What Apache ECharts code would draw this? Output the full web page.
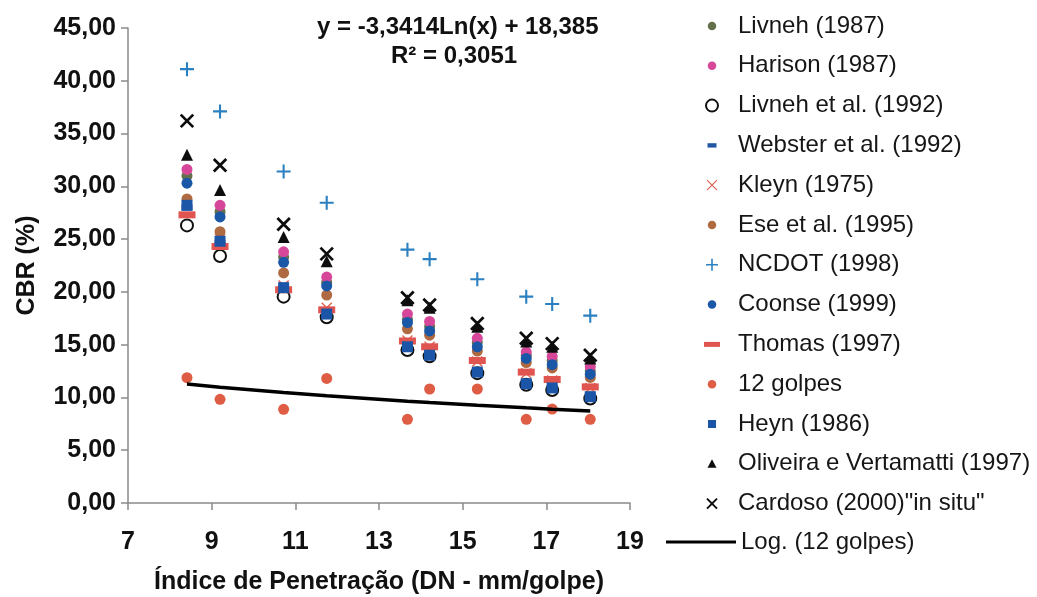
<!DOCTYPE html>
<html lang="pt">
<head>
<meta charset="UTF-8">
<title>CBR x Índice de Penetração</title>
<style>
    * { margin: 0; padding: 0; }
    #chart { width: 1037px; height: 597px; background: #fff; }
</style>
</head>
<body>
<div id="chart"></div>
<script src="https://cdn.jsdelivr.net/npm/echarts@6/dist/echarts.min.js"></script>
<script>
// índice de penetração DN (mm/golpe) de cada ensaio
const dn = [8.41, 9.20, 10.72, 11.75, 13.68, 14.21, 15.35, 16.52, 17.14, 18.05];

// CBR (%) por correlação
const livneh1987   = [31.0, 27.6, 23.3, 20.9, 17.4, 16.7, 15.2, 14.0, 13.5, 12.5];
const harison1987  = [31.6, 28.2, 23.8, 21.4, 17.9, 17.2, 15.6, 14.3, 13.9, 12.9];
const livneh1992   = [26.3, 23.4, 19.55, 17.6, 14.5, 13.9, 12.3, 11.2, 10.7, 9.9];
const webster1992  = [28.0, 24.6, 20.3, 17.9, 14.6, 14.0, 12.5, 11.4, 10.9, 10.1];
const kleyn1975    = [28.4, 25.0, 20.6, 18.5, 15.4, 14.8, 13.4, 12.3, 11.6, 10.9];
const ese1995      = [28.8, 25.7, 21.8, 19.7, 16.5, 15.9, 14.4, 13.3, 12.8, 11.9];
const ncdot1998    = [41.1, 37.1, 31.4, 28.45, 24.0, 23.1, 21.2, 19.55, 18.85, 17.75];
const coonse1999   = [30.3, 27.1, 22.8, 20.56, 17.1, 16.3, 14.8, 13.7, 13.1, 12.2];
const thomas1997   = [27.3, 24.3, 20.2, 18.3, 15.35, 14.8, 13.5, 12.4, 11.7, 11.0];
const golpes12     = [11.87, 9.82, 8.88, 11.8, 7.93, 10.8, 10.8, 7.93, 8.9, 7.93];
const heyn1986     = [28.2, 24.8, 20.4, 17.9, 14.8, 14.0, 12.4, 11.3, 10.9, 10.07];
const oliveira1997 = [33.0, 29.65, 25.2, 22.9, 19.2, 18.5, 16.7, 15.3, 14.8, 13.7];
const cardoso2000  = [36.2, 32.0, 26.4, 23.6, 19.45, 18.76, 17.0, 15.6, 15.1, 14.0];

// linha de tendência logarítmica (12 golpes), coeficientes do gráfico
const trendA = -3.3414;
const trendB = 18.385;
const trendLabel = 'y = -3,3414Ln(x) + 18,385';
const r2Label = 'R² = 0,3051';

const xMin = 7, xMax = 19, xStep = 2;
const yMin = 0, yMax = 45, yStep = 5;

const font = 'Liberation Sans, Arial, sans-serif';

// símbolos desenhados como caminhos preenchidos
function p(x, y) { return x.toFixed(2) + ',' + y.toFixed(2); }
function crossPath(box, pad, half) {
    const a = pad, b = box - pad, d = half / Math.SQRT2;
    return 'path://M0,0M' + box + ',' + box +
        'M' + p(a + d, a - d) + 'L' + p(b + d, b - d) + 'L' + p(b - d, b + d) + 'L' + p(a - d, a + d) + 'Z' +
        'M' + p(b + d, a + d) + 'L' + p(a + d, b + d) + 'L' + p(a - d, b - d) + 'L' + p(b - d, a - d) + 'Z';
}
function plusPath(box, t) {
    const c = box / 2, h = t / 2;
    return 'path://M' + p(c - h, 0) + 'H' + (c + h) + 'V' + (c - h) + 'H' + box + 'V' + (c + h) +
        'H' + (c + h) + 'V' + box + 'H' + (c - h) + 'V' + (c + h) + 'H0V' + (c - h) + 'H' + (c - h) + 'Z';
}
const dotIcon = 'path://M0,0M12,12M1.75,6a4.25,4.25 0 1,0 8.5,0a4.25,4.25 0 1,0 -8.5,0Z';

const seriesDefs = [
    { name: 'Livneh (1987)', data: livneh1987, color: '#646f4c', symbol: 'circle', size: 11, icon: dotIcon },
    { name: 'Harison (1987)', data: harison1987, color: '#d6479a', symbol: 'circle', size: 11, icon: dotIcon },
    { name: 'Livneh et al. (1992)', data: livneh1992, color: '#111111', symbol: 'emptyCircle', size: 12, icon: 'emptyCircle', border: 2.5 },
    { name: 'Webster et al. (1992)', data: webster1992, color: '#2357a3', symbol: 'rect', size: [11, 6], icon: 'path://M0,0M12,12M1.5,3.8H10.5V8.2H1.5Z' },
    { name: 'Kleyn (1975)', data: kleyn1975, color: '#e2614f', symbol: crossPath(12, 1, 0.7), size: 12, icon: crossPath(12, 1, 0.6) },
    { name: 'Ese et al. (1995)', data: ese1995, color: '#b06a42', symbol: 'circle', size: 11, icon: dotIcon },
    { name: 'NCDOT (1998)', data: ncdot1998, color: '#2a80c0', symbol: plusPath(12, 1.8), size: 14, icon: plusPath(12, 1.6) },
    { name: 'Coonse (1999)', data: coonse1999, color: '#1a57a6', symbol: 'circle', size: 11, icon: dotIcon },
    { name: 'Thomas (1997)', data: thomas1997, color: '#e05550', symbol: 'rect', size: [17, 7], icon: 'path://M0,0M16,12M0,3.5H16V8.5H0Z' },
    { name: '12 golpes', data: golpes12, color: '#df5d45', symbol: 'circle', size: 11, icon: dotIcon },
    { name: 'Heyn (1986)', data: heyn1986, color: '#1a55a8', symbol: 'rect', size: 11, icon: 'path://M0,0M12,12M2,2H10V10H2Z' },
    { name: 'Oliveira e Vertamatti (1997)', data: oliveira1997, color: '#0d0d0d', symbol: 'triangle', size: 12, icon: 'path://M0,0M12,12M6,1.5L10.5,10H1.5Z' },
    { name: 'Cardoso (2000)"in situ"', data: cardoso2000, color: '#0d0d0d', symbol: crossPath(12, 1, 1.1), size: 15, icon: crossPath(12, 1, 1.0) }
];

const series = seriesDefs.map(function (s) {
    return {
        name: s.name,
        type: 'scatter',
        symbol: s.symbol,
        symbolSize: s.size,
        itemStyle: s.border
            ? { color: s.color, borderColor: s.color, borderWidth: s.border, opacity: 1 }
            : { color: s.color, opacity: 1 },
        data: dn.map(function (x, i) { return [x, s.data[i]]; })
    };
});

series.push({
    name: 'Log. (12 golpes)',
    type: 'line',
    showSymbol: false,
    symbol: 'none',
    itemStyle: { color: '#000' },
    lineStyle: { color: '#000', width: 3.5 },
    data: dn.map(function (x) { return [x, trendA * Math.log(x) + trendB]; })
});

const legendText = { fontFamily: font, fontSize: 24, lineHeight: 26, color: '#161616' };

const option = {
    animation: false,
    backgroundColor: '#fff',
    grid: { left: 128, right: 407, top: 28, bottom: 94, outerBoundsMode: 'none' },
    xAxis: {
        type: 'value',
        min: xMin, max: xMax, interval: xStep,
        name: 'Índice de Penetração (DN - mm/golpe)',
        nameLocation: 'middle',
        nameGap: 67,
        nameTextStyle: { fontFamily: font, fontSize: 25, fontWeight: 'bold', color: '#111' },
        axisLine: { onZero: false, lineStyle: { color: '#8a8a8a', width: 1.5 } },
        axisTick: { inside: false, length: 7, lineStyle: { color: '#8a8a8a', width: 1.5 } },
        axisLabel: { margin: 27, fontFamily: font, fontSize: 25, fontWeight: 'bold', color: '#111' },
        splitLine: { show: false }
    },
    yAxis: {
        type: 'value',
        min: yMin, max: yMax, interval: yStep,
        name: 'CBR (%)',
        nameLocation: 'middle',
        nameGap: 88,
        nameTextStyle: { fontFamily: font, fontSize: 25, fontWeight: 'bold', color: '#111' },
        axisLine: { show: true, lineStyle: { color: '#8a8a8a', width: 1.5 } },
        axisTick: { show: true, inside: false, length: 7, lineStyle: { color: '#8a8a8a', width: 1.5 } },
        axisLabel: {
            margin: 12, fontFamily: font, fontSize: 25, fontWeight: 'bold', color: '#111',
            formatter: function (v) { return v.toFixed(2).replace('.', ','); }
        },
        splitLine: { show: false }
    },
    legend: [{
        // left is the edge of the widest icon (Thomas dash), 13px inside the item box
        orient: 'vertical',
        left: 704, top: 13,
        padding: 0,
        itemWidth: 42, itemHeight: 12, itemGap: 13.8,
        selectedMode: false,
        textStyle: legendText,
        data: seriesDefs.map(function (s) { return { name: s.name, icon: s.icon }; })
    }, {
        orient: 'vertical',
        left: 666, top: 529,
        padding: 0,
        itemWidth: 70, itemHeight: 3,
        selectedMode: false,
        textStyle: legendText,
        data: [{ name: 'Log. (12 golpes)', icon: 'rect' }]
    }],
    graphic: [{
        type: 'text', left: 461 - 144, top: 15,
        style: { text: trendLabel, font: 'bold 24px ' + font, fill: '#111' }
    }, {
        type: 'text', left: 461 - 70, top: 44,
        style: { text: r2Label, font: 'bold 24px ' + font, fill: '#111' }
    }],
    series: series
};

const chart = echarts.init(document.getElementById('chart'));
chart.setOption(option);
</script>
</body>
</html>
